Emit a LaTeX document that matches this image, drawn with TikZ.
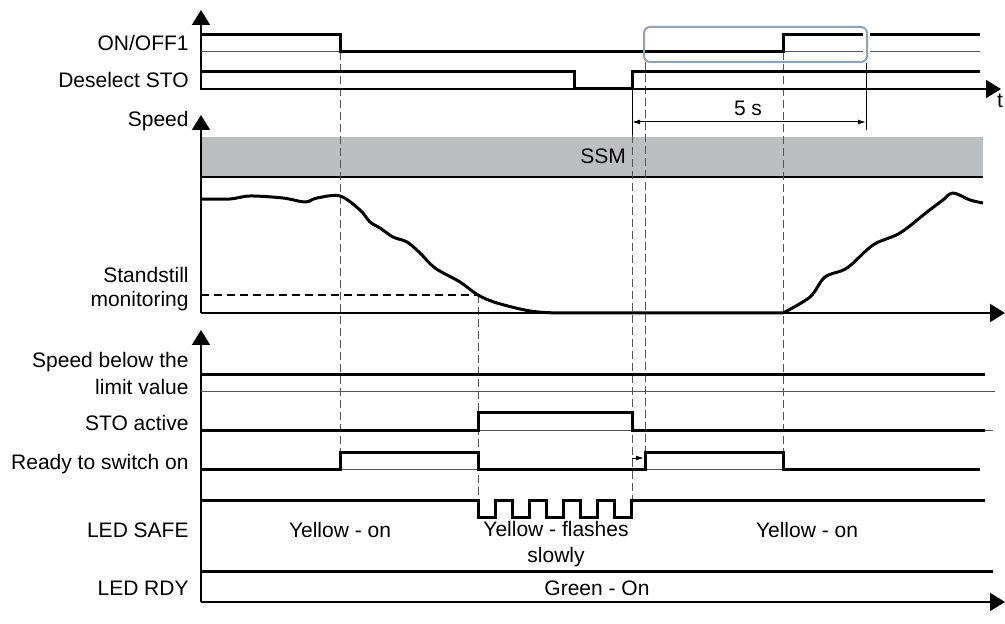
\documentclass[tikz,border=0pt]{standalone}
\usepackage{fontspec}
\setmainfont{Liberation Sans}
\usetikzlibrary{arrows.meta}
\definecolor{boxblue}{HTML}{8FA3B4}
\definecolor{ssmgray}{HTML}{BCBEC0}
\definecolor{refgray}{HTML}{555555}
\begin{document}
\begin{tikzpicture}[x=0.5pt,y=-0.5pt,>=Latex,
  lbl/.style={anchor=base east,inner sep=0pt,font=\fontsize{10.5}{13}\selectfont},
  txt/.style={anchor=base,inner sep=0pt,align=center,font=\fontsize{10.5}{13}\selectfont},
  sig/.style={line width=1.5pt,line join=miter},
  ref/.style={line width=0.5pt,refgray},
  ax/.style={line width=1pt,-{Triangle[length=7.5pt,width=9pt]}},
  dsh/.style={line width=0.5pt,refgray,dash pattern=on 4pt off 2pt},
  dim/.style={line width=0.5pt,{Latex[length=4pt,width=2.4pt]}-{Latex[length=4pt,width=2.4pt]}}]
\useasboundingbox (0,0) rectangle (1005,624);
% labels
\node[lbl] (onoff) at (189,51) {ON/OFF1};
\node[lbl] (desto) at (189,88) {Deselect STO};
\node[lbl] (speed) at (189,127) {Speed};
\node[lbl] (stand1) at (189,283) {Standstill};
\node[lbl] (stand2) at (189,307) {monitoring};
\node[lbl] (below1) at (189,368) {Speed below the};
\node[lbl] (below2) at (189,395) {limit value};
\node[lbl] (stoact) at (189,430) {STO active};
\node[lbl] (ready) at (189,469) {Ready to switch on};
\node[lbl] (ledsafe) at (189,537) {LED SAFE};
\node[lbl] (ledrdy) at (189,595) {LED RDY};
% speed band
\fill[ssmgray] (201,137) rectangle (983,177);
\draw[line width=1pt] (201,177) -- (983,177);
\node[txt] (ssm) at (603,164) {SSM};
% dashed helpers
\draw[dsh] (340,52) -- (340,452);
\draw[dsh] (478,295) -- (478,500);
\draw[dsh] (632,135) -- (632,499);
\draw[dsh] (645,62) -- (645,452);
\draw[dsh] (783,52) -- (783,453);
\draw[line width=0.6pt,dash pattern=on 4pt off 2.5pt] (201,295) -- (478,295);
% axes
\draw[ax] (201,90) -- (201,10);
\draw[ax,line width=0.75pt] (201,89) -- (1001,89);
\node[txt] (tlbl) at (1000,108) {t};
\draw[ax] (201,313) -- (201,115);
\draw[ax] (201,313) -- (1005,313);
\draw[ax] (201,602) -- (201,330);
\draw[ax,line width=0.75pt] (201,602) -- (1005,602);
% ON/OFF1
\draw[ref] (201,52) -- (863,52) (870,52) -- (980,52);
\draw[sig] (201,35) -- (340,35) -- (340,52) -- (783,52) -- (783,35) -- (863,35);
\draw[sig] (870,35) -- (980,35);
\draw[boxblue,line width=1pt,rounded corners=3pt] (644,27) rectangle (867,62);
% Deselect STO
\draw[sig] (201,72) -- (574,72) -- (574,89) -- (632,89) -- (632,72) -- (980,72);
% 5 s
\draw[line width=0.5pt] (632,90) -- (632,135);
\draw[line width=0.5pt] (866,63) -- (866,130);
\draw[dim] (632,122) -- (866,122);
\node[txt] (fives) at (748,116) {5 s};
% speed curve
\draw[sig,line join=round] plot[smooth,tension=0.55] coordinates {(201,199) (230,199) (250,196) (283,198)
  (305,202) (317,198) (340,196) (360,210) (370,222) (380,228) (393,237) (407,242) (420,253)
  (435,268) (460,282) (478,295) (497,303) (530,311) (557,313)} -- (783,313)
  plot[smooth,tension=0.55] coordinates {(783,313) (810,297) (825,277) (847,268) (873,245) (900,233)
  (927,212) (943,200) (953,193) (970,200) (983,203)};
% Speed below the limit value
\draw[ref] (201,392) -- (995,392);
\draw[sig] (201,375) -- (985,375);
% STO active
\draw[ref] (201,431) -- (993,431);
\draw[sig] (201,431) -- (478,431) -- (478,413) -- (632,413) -- (632,431) -- (985,431);
% Ready to switch on
\draw[ref] (201,469) -- (980,469);
\draw[sig] (201,469) -- (340,469) -- (340,452) -- (478,452) -- (478,469) -- (645,469)
  -- (645,452) -- (783,452) -- (783,469) -- (980,469);
\draw[line width=0.5pt,-{Latex[length=4pt,width=2.4pt]}] (632,458) -- (644,458);
% LED SAFE
\draw[sig] (201,500) -- (478,500)
  \foreach \k in {0,...,4} {-- ++(0,17) -- ++(17,0) -- ++(0,-17) -- ++(17.2,0)} -- (985,500);
\node[txt] (yon1) at (340,537) {Yellow - on};
\node[txt] (yflash) at (556,562) {Yellow - flashes\\slowly};
\node[txt] (yon2) at (807,537) {Yellow - on};
% LED RDY
\draw[sig] (201,571) -- (993,571);
\node[txt] (green) at (597,595) {Green - On};
\end{tikzpicture}
\end{document}
